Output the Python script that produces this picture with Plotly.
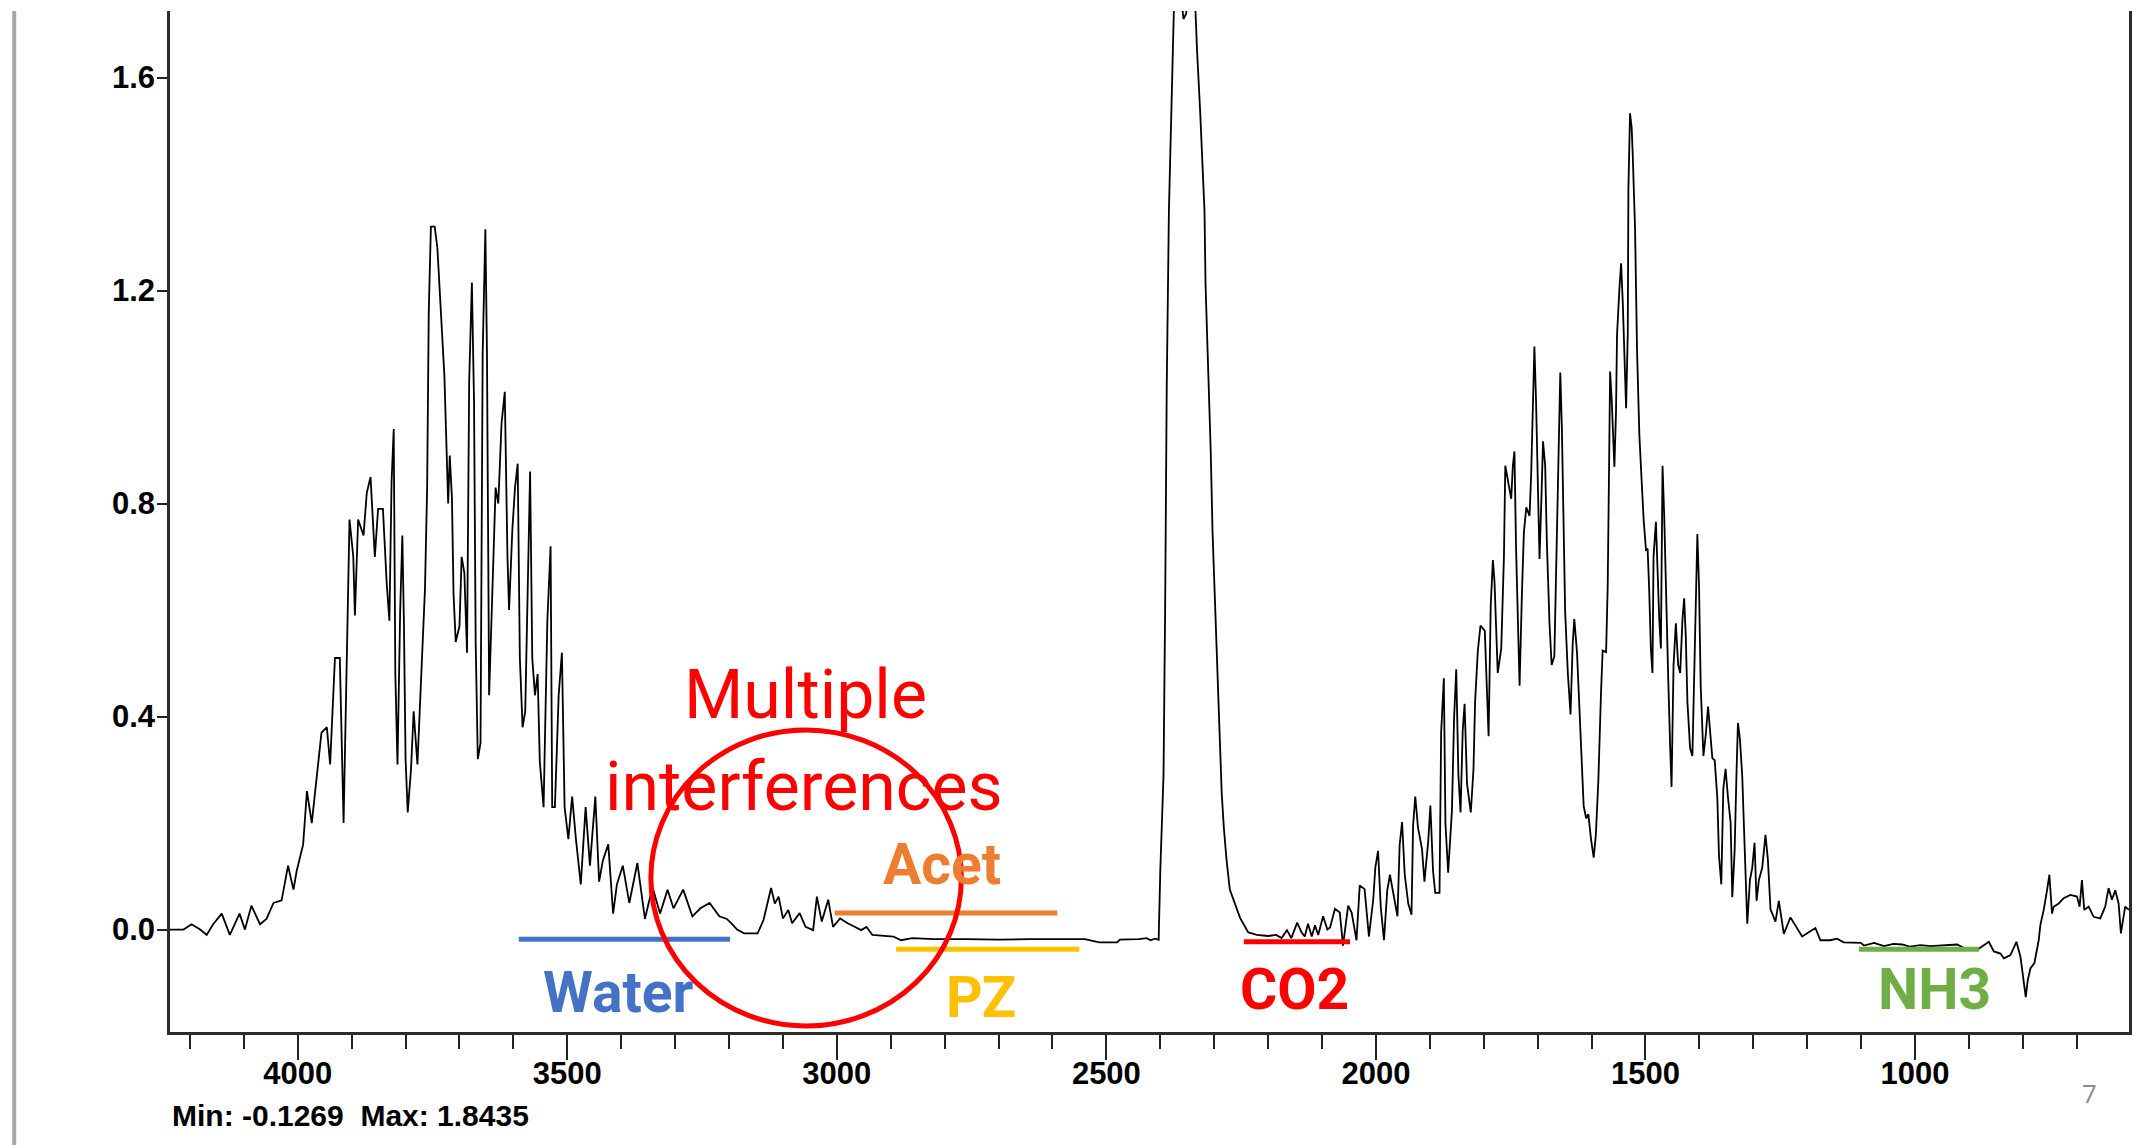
import plotly.graph_objects as go

# ---------------- spectrum data (wavenumber cm-1, absorbance) ----------------
wn_oh = [4237, 4212, 4197, 4181, 4169, 4157, 4141, 4126, 4108, 4098, 4086, 4070, 4058, 4045, 4030,
         4018, 4008, 4002, 3990, 3983, 3974, 3968, 3956, 3946, 3940, 3931, 3922, 3915, 3909, 3904,
         3897, 3894, 3888, 3878, 3872, 3865, 3857, 3851, 3842, 3835, 3830, 3826, 3822, 3819, 3815,
         3810, 3806, 3803, 3800, 3796, 3790, 3785, 3778, 3771, 3764, 3760, 3757, 3753, 3746, 3741,
         3735, 3728, 3721, 3718, 3714, 3711, 3707, 3700, 3696, 3691, 3686, 3682, 3677, 3673, 3670,
         3666, 3661, 3657, 3652, 3649, 3645, 3640, 3633, 3628, 3622, 3616, 3611, 3608, 3602, 3597,
         3592, 3588, 3583, 3578, 3572, 3569, 3565, 3560, 3555, 3551, 3544, 3537, 3531, 3528, 3523,
         3516, 3510, 3505, 3498, 3491, 3484, 3475, 3466, 3458, 3448, 3441, 3434, 3424, 3415, 3408,
         3397, 3385, 3370, 3356, 3342, 3328, 3314, 3303, 3285, 3268, 3253, 3236, 3218, 3204]
ab_oh = [0.00, 0.00, 0.01, 0.00, -0.01, 0.01, 0.03, -0.01, 0.03, 0.00, 0.045, 0.01, 0.02, 0.05, 0.055,
         0.12, 0.075, 0.11, 0.16, 0.26, 0.20, 0.26, 0.37, 0.38, 0.31, 0.51, 0.51, 0.20, 0.51, 0.77,
         0.70, 0.59, 0.77, 0.74, 0.82, 0.85, 0.70, 0.79, 0.79, 0.65, 0.58, 0.84, 0.94, 0.48, 0.31,
         0.60, 0.74, 0.57, 0.32, 0.22, 0.30, 0.41, 0.31, 0.49, 0.64, 0.83, 1.16, 1.32, 1.32, 1.28,
         1.16, 1.04, 0.80, 0.89, 0.81, 0.63, 0.54, 0.57, 0.70, 0.67, 0.52, 1.03, 1.215, 0.99, 0.54,
         0.32, 0.35, 1.08, 1.315, 1.08, 0.44, 0.59, 0.83, 0.80, 0.95, 1.01, 0.70, 0.60, 0.75, 0.83,
         0.875, 0.51, 0.38, 0.41, 0.745, 0.86, 0.51, 0.44, 0.48, 0.315, 0.23, 0.58, 0.72, 0.23, 0.23,
         0.44, 0.52, 0.23, 0.17, 0.25, 0.17, 0.085, 0.23, 0.12, 0.25, 0.09, 0.13, 0.16, 0.03, 0.085,
         0.12, 0.05, 0.125, 0.02, 0.08, 0.03, 0.075, 0.04, 0.075, 0.025, 0.04, 0.05, 0.025, 0.02]

wn_ch = [3196, 3185, 3172, 3147, 3136, 3122, 3115, 3108, 3100, 3090, 3083, 3069, 3058, 3044, 3037,
         3028, 3016, 3007, 2994, 2980, 2966, 2955, 2945, 2934, 2895, 2881, 2860, 2820, 2760, 2700,
         2640, 2590, 2540, 2513, 2480, 2475, 2440, 2425, 2418, 2410, 2403]
ab_ch = [0.012, 0.0, -0.007, -0.007, 0.018, 0.078, 0.049, 0.062, 0.021, 0.037, 0.012, 0.031, 0.005, -0.001, 0.062,
         0.015, 0.056, 0.005, 0.021, 0.012, 0.005, -0.001, 0.005, -0.01, -0.013, -0.02, -0.016, -0.018, -0.018, -0.019,
         -0.018, -0.018, -0.018, -0.024, -0.024, -0.019, -0.018, -0.016, -0.02, -0.017, -0.019]

wn_co2 = [2400, 2394, 2391, 2388, 2384, 2379, 2374, 2368, 2362, 2357, 2352, 2346, 2341, 2336, 2332,
          2326, 2322, 2318, 2316, 2311, 2306.5, 2303, 2298, 2294, 2290, 2286, 2282, 2277, 2271, 2261,
          2252, 2237, 2221, 2200, 2185, 2175, 2165, 2157, 2146]
ab_co2 = [0.11, 0.29, 0.60, 1.02, 1.35, 1.58, 1.76, 1.80, 1.76, 1.71, 1.72, 1.79, 1.8435, 1.76, 1.655,
          1.536, 1.45, 1.35, 1.21, 1.06, 0.90, 0.745, 0.60, 0.465, 0.34, 0.255, 0.19, 0.13, 0.075, 0.045,
          0.022, -0.005, -0.01, -0.012, -0.01, -0.016, -0.001, -0.016, 0.013]

wn_fp = [2138, 2132, 2126, 2119, 2113, 2107, 2098, 2090, 2085, 2076, 2067, 2061, 2051.5, 2045, 2036,
         2030, 2021, 2013, 2005, 2001, 1996, 1991, 1985, 1979, 1974, 1968, 1960, 1956, 1951.5, 1946.5,
         1940, 1934, 1931, 1927, 1922, 1914.5, 1910, 1903, 1899, 1894, 1890, 1882, 1879, 1874, 1871,
         1866, 1859, 1855, 1851, 1847, 1843, 1839, 1835.5, 1831, 1824, 1819, 1816, 1811, 1806, 1798,
         1793.5, 1791, 1787, 1783, 1780, 1774, 1767.5, 1762.5, 1760, 1756, 1749, 1746, 1743, 1740, 1737,
         1733.5, 1729, 1725.5, 1721, 1715, 1712, 1709, 1706, 1703, 1700, 1696.5, 1693, 1690, 1686, 1683,
         1678, 1674, 1669, 1664.5, 1661, 1658, 1655, 1652, 1649, 1644, 1639, 1635, 1632, 1627, 1622.5,
         1618, 1614.6, 1610, 1606, 1601, 1596, 1592, 1587.4, 1582.5, 1579.4, 1573, 1570, 1567, 1565.6, 1562.6,
         1557.6, 1554.6, 1552.7, 1548.3, 1545.2, 1542.1, 1539, 1535.9, 1532.8, 1531.6, 1528.6, 1525.5, 1523.6, 1519.3, 1515.6,
         1511.3, 1507, 1503.3, 1499, 1496, 1493, 1490, 1487, 1485, 1480.6, 1477.5, 1474.4, 1471.4, 1468.3, 1465.2,
         1462.1, 1457.8, 1454.1, 1451.6, 1447.9, 1443.6, 1439.3, 1435.6, 1431.3, 1428.2, 1425.2, 1422.1, 1417.2, 1412.9, 1409.8,
         1406.8, 1403.7, 1400.6, 1397.5, 1392.5, 1388.2, 1383.9, 1380.2, 1375.9, 1371.6, 1366.7, 1363.6, 1359.3, 1355.6, 1351.4,
         1346.9, 1342, 1338.9, 1334.6, 1330.9, 1328.4, 1324.7, 1320.4, 1317.3, 1314.2, 1311.1, 1306.2, 1301.9, 1297.6, 1293.9,
         1289.6, 1283.4, 1277.3, 1272.9, 1268, 1258.8, 1252.6, 1243.3, 1231, 1221.8, 1209.4, 1197, 1184.7, 1175.5, 1157,
         1144.6, 1132.3]
ab_fp = [-0.005, -0.013, 0.011, -0.013, 0.008, -0.01, 0.025, 0.0, 0.004, 0.039, 0.032, -0.03, 0.045, 0.032, -0.02,
         0.083, 0.076, -0.013, 0.056, 0.117, 0.148, 0.042, -0.02, 0.073, 0.103, 0.066, 0.025, 0.158, 0.202, 0.103,
         0.049, 0.028, 0.196, 0.25, 0.192, 0.151, 0.09, 0.165, 0.233, 0.11, 0.069, 0.069, 0.37, 0.472, 0.199,
         0.107, 0.223, 0.397, 0.489, 0.291, 0.22, 0.373, 0.424, 0.274, 0.22, 0.301, 0.428, 0.523, 0.571, 0.561,
         0.417, 0.363, 0.609, 0.694, 0.653, 0.482, 0.528, 0.70, 0.871, 0.848, 0.809, 0.871, 0.898, 0.715, 0.567,
         0.458, 0.637, 0.746, 0.793, 0.777, 0.855, 1.007, 1.095, 0.995, 0.832, 0.696, 0.809, 0.917, 0.871, 0.731,
         0.575, 0.497, 0.513, 0.731, 0.917, 1.046, 0.941, 0.746, 0.598, 0.482, 0.404, 0.536, 0.583, 0.521, 0.419,
         0.326, 0.232, 0.209, 0.217, 0.17, 0.135, 0.178, 0.279, 0.443, 0.524, 0.521, 0.645, 0.91, 1.048, 0.995,
         0.869, 0.973, 1.117, 1.204, 1.251, 1.179, 1.051, 0.979, 1.12, 1.392, 1.533, 1.505, 1.455, 1.317, 1.088,
         0.929, 0.841, 0.769, 0.713, 0.715, 0.637, 0.528, 0.482, 0.70, 0.766, 0.653, 0.583, 0.528, 0.871, 0.777,
         0.622, 0.474, 0.341, 0.268, 0.497, 0.575, 0.497, 0.482, 0.583, 0.622, 0.552, 0.427, 0.341, 0.326, 0.466,
         0.637, 0.743, 0.645, 0.458, 0.326, 0.365, 0.419, 0.38, 0.322, 0.318, 0.248, 0.139, 0.085, 0.264, 0.302,
         0.248, 0.201, 0.061, 0.147, 0.302, 0.388, 0.357, 0.287, 0.194, 0.093, 0.011, 0.093, 0.116, 0.163, 0.054,
         0.093, 0.116, 0.178, 0.132, 0.038, 0.015, 0.054, -0.008, 0.023, 0.007, -0.013, -0.005, 0.003, -0.02, -0.02,
         -0.017, -0.024]

wn_low = [1100.7, 1094.5, 1076, 1057.5, 1040, 1023.6, 1010, 990, 971, 950, 921.7, 903, 884.6, 863, 853.7,
          841.4, 835.2, 822.9, 811.8, 804.4, 798.2, 794.5, 790.8, 785.9, 778.5, 774.8, 770.5, 767.4, 761.2, 755,
          750.7, 745.8, 742.7, 733.4, 724.2, 711.8, 699.5, 694.6, 690.3, 686, 677.9, 668.6, 656.3, 647.1, 640.9,
          634.7, 628.5, 622.3, 618, 610.1, 603]
ab_low = [-0.025, -0.03, -0.025, -0.031, -0.027, -0.028, -0.032, -0.029, -0.031, -0.03, -0.028, -0.038, -0.038, -0.023, -0.041,
          -0.045, -0.054, -0.048, -0.023, -0.051, -0.095, -0.127, -0.095, -0.073, -0.063, -0.041, -0.02, 0.009, 0.037, 0.074,
          0.103, 0.03, 0.043, 0.049, 0.059, 0.065, 0.062, 0.043, 0.093, 0.037, 0.043, 0.024, 0.021, 0.043, 0.078,
          0.056, 0.074, 0.049, -0.007, 0.043, 0.037]

# ---------------- axes ----------------
x_range = [4237, 603]
y_range = [-0.1923, 1.725]
y_ticks = [0.0, 0.4, 0.8, 1.2, 1.6]
x_major_step = 500
x_minor_step = 100

# ---------------- interference bands ----------------
band_names = ["Water", "Acet", "PZ", "CO2", "NH3"]
band_colors = ["#4472C4", "#ED7D31", "#FFC000", "#FF0000", "#70AD47"]
band_start = [3590, 3004, 2890, 2245, 1104]
band_end = [3198, 2591, 2550, 2048, 881]
band_level = [-0.018, 0.031, -0.037, -0.023, -0.037]
label_x = [3405, 2805, 2732, 2151, 963]
label_y = [-0.118, 0.122, -0.127, -0.112, -0.112]

note_lines = ["Multiple", "interferences"]
note_x = [3058, 3061]
note_y = [0.44, 0.268]
circle_x = [3345, 2769]
circle_y = [-0.181, 0.375]

stats_text = "Min: -0.1269  Max: 1.8435"
page_number = "7"

wavenumber = wn_oh + wn_ch + wn_co2 + wn_fp + wn_low
absorbance = ab_oh + ab_ch + ab_co2 + ab_fp + ab_low

fig = go.Figure()
fig.add_trace(go.Scatter(x=wavenumber, y=absorbance, mode="lines",
                         line=dict(color="#000000", width=1.8), hoverinfo="skip"))

for name, col, x0, x1, lv, lx, ly in zip(band_names, band_colors, band_start, band_end,
                                         band_level, label_x, label_y):
    fig.add_trace(go.Scatter(x=[x0, x1], y=[lv, lv], mode="lines",
                             line=dict(color=col, width=5), hoverinfo="skip"))
    fig.add_annotation(x=lx, y=ly, xref="x", yref="y", text=name, showarrow=False,
                       xanchor="center", yanchor="middle",
                       font=dict(family="Roboto", size=57, color=col, weight="bold"))

for t, nx, ny in zip(note_lines, note_x, note_y):
    fig.add_annotation(x=nx, y=ny, xref="x", yref="y", text=t, showarrow=False,
                       xanchor="center", yanchor="middle",
                       font=dict(family="Roboto", size=68, color="#FF0000"))

fig.add_shape(type="circle", xref="x", yref="y", x0=circle_x[0], x1=circle_x[1],
              y0=circle_y[0], y1=circle_y[1], line=dict(color="#FF0000", width=5))

# left grey slide rule
fig.add_shape(type="line", xref="paper", yref="paper", x0=-0.0795, x1=-0.0795,
              y0=-0.111, y1=1.0, line=dict(color="#A6A6A6", width=4))

fig.add_annotation(x=0, y=-0.082, xref="paper", yref="paper", text=stats_text, showarrow=False,
                   xanchor="left", yanchor="middle",
                   font=dict(family="Liberation Sans", size=30, color="#000000", weight="bold"))
fig.add_annotation(x=0.9796, y=-0.06, xref="paper", yref="paper", text=page_number, showarrow=False,
                   xanchor="center", yanchor="middle",
                   font=dict(family="Open Sans", size=26, color="#8C8C8C"))

tick_font = dict(family="Liberation Sans", size=31, color="#000000", weight="bold")
fig.update_xaxes(range=x_range, autorange=False, showgrid=False, zeroline=False,
                 showline=True, linecolor="#2b2b2b", linewidth=2.5,
                 tick0=0, dtick=x_major_step, ticks="outside", ticklen=25, tickwidth=2,
                 tickcolor="#222222", tickfont=tick_font, ticklabelstandoff=-13,
                 minor=dict(tick0=0, dtick=x_minor_step, ticks="outside", ticklen=14,
                            tickwidth=2, tickcolor="#222222", showgrid=False))
fig.update_yaxes(range=y_range, autorange=False, showgrid=False, zeroline=False,
                 showline=True, mirror=True, linecolor="#2b2b2b", linewidth=2.5,
                 tickmode="array", tickvals=y_ticks, tickformat=".1f",
                 ticks="outside", ticklen=10, tickwidth=2, tickcolor="#222222",
                 tickfont=tick_font, ticklabelstandoff=-4)

fig.update_layout(width=2134, height=1145, showlegend=False,
                  plot_bgcolor="#FFFFFF", paper_bgcolor="#FFFFFF",
                  margin=dict(l=170, r=2, t=11, b=113))

fig.write_html("out.html", config={"displayModeBar": False},
               post_script="document.body.style.margin='0';document.body.style.overflow='hidden';")
